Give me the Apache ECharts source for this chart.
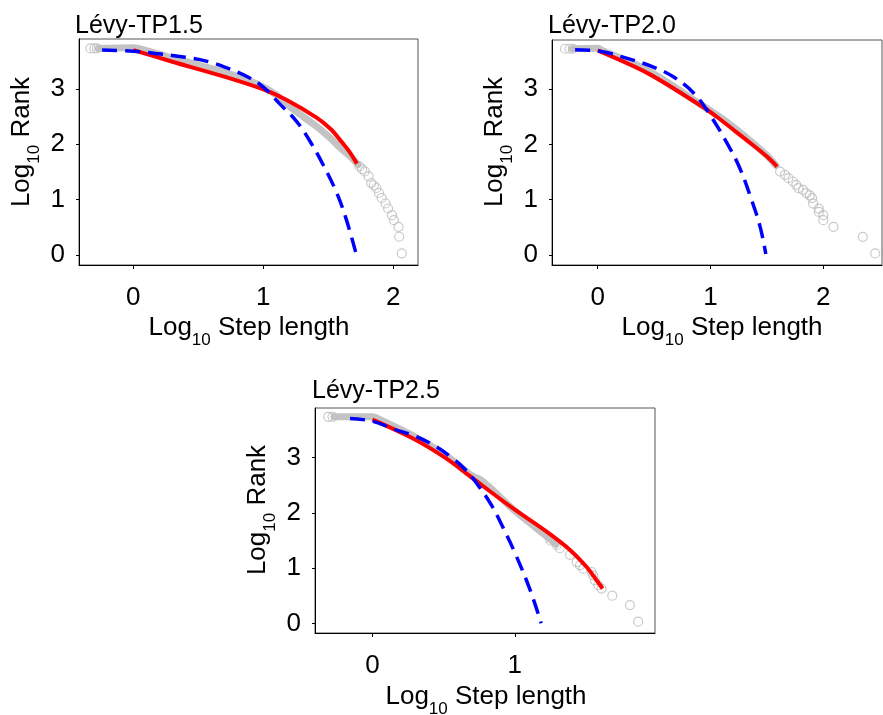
<!DOCTYPE html>
<html><head><meta charset="utf-8">
<script src="https://cdn.jsdelivr.net/npm/echarts@6/dist/echarts.min.js"></script>
<style>html,body{margin:0;padding:0;background:#fff}#c{width:883px;height:715px}</style>
</head><body><div id="c"></div>
<script>
// ---------- data ----------
const titles = ['Lévy-TP1.5', 'Lévy-TP2.0', 'Lévy-TP2.5'];
const xTickVals1 = [0, 1, 2];
const xTickVals2 = [0, 1, 2];
const xTickVals3 = [0, 1];
const yTickVals = [0, 1, 2, 3];
const xTitle = 'Log{s|10} Step length';
const yTitle = 'Log{s|10} Rank';

// Panel 1 (Lévy-TP1.5)
const p1Band = [[-0.27,3.73],[0.0,3.74],[0.1,3.69],[0.32,3.54],[0.7,3.30],[0.96,3.08],[1.1,2.89],[1.23,2.63],[1.41,2.32],[1.52,2.10],[1.6,1.92],[1.67,1.78],[1.73,1.63]];
const p1Dots = [[-0.33,3.73],[-0.30,3.73],[-0.28,3.73],[1.74,1.60],[1.76,1.55],[1.78,1.51],[1.81,1.42],[1.83,1.30],[1.85,1.26],[1.87,1.21],[1.89,1.12],[1.91,1.03],[1.94,0.93],[1.96,0.84],[1.99,0.72],[2.005,0.63],[2.04,0.51],[2.045,0.33],[2.065,0.03]];
const p1Fit = [[0.0,3.70],[0.3,3.49],[0.7,3.22],[1.0,2.99],[1.18,2.80],[1.41,2.48],[1.52,2.27],[1.6,2.05],[1.667,1.85],[1.72,1.65]];
const p1Exp = [[-0.24,3.70],[0.0,3.68],[0.17,3.64],[0.40,3.57],[0.58,3.49],[0.73,3.37],[0.885,3.21],[1.0,3.03],[1.13,2.72],[1.257,2.41],[1.36,2.05],[1.46,1.63],[1.565,1.12],[1.64,0.63],[1.713,0.03]];

// Panel 2 (Lévy-TP2.0)
const p2Band = [[-0.22,3.73],[0.0,3.74],[0.05,3.69],[0.45,3.33],[0.93,2.70],[1.1,2.47],[1.26,2.22],[1.4,1.98],[1.5,1.80],[1.58,1.62]];
const p2Dots = [[-0.29,3.73],[-0.25,3.73],[-0.22,3.73],[1.617,1.51],[1.66,1.45],[1.69,1.39],[1.73,1.33],[1.76,1.27],[1.78,1.21],[1.82,1.18],[1.85,1.12],[1.88,1.08],[1.90,1.03],[1.91,0.93],[1.96,0.84],[1.96,0.78],[2.0,0.72],[2.0,0.63],[2.09,0.51],[2.35,0.33],[2.46,0.03]];
const p2Fit = [[0.0,3.70],[0.45,3.28],[0.93,2.68],[1.055,2.50],[1.2,2.27],[1.35,2.03],[1.5,1.78],[1.59,1.60]];
const p2Exp = [[-0.20,3.71],[0.0,3.69],[0.27,3.55],[0.505,3.39],[0.68,3.21],[0.86,2.91],[1.0,2.52],[1.15,2.01],[1.26,1.57],[1.365,0.99],[1.44,0.51],[1.49,0.02]];

// Panel 3 (Lévy-TP2.5)
const p3Band = [[-0.27,3.74],[0.0,3.74],[0.06,3.68],[0.276,3.41],[0.51,3.05],[0.70,2.67],[0.76,2.60],[0.85,2.40],[0.99,2.06],[1.1,1.83],[1.22,1.58],[1.29,1.43]];
const p3Dots = [[-0.31,3.74],[-0.28,3.74],[1.25,1.50],[1.293,1.42],[1.316,1.36],[1.387,1.24],[1.434,1.11],[1.457,1.05],[1.48,0.99],[1.539,0.93],[1.55,0.87],[1.562,0.78],[1.585,0.69],[1.609,0.63],[1.684,0.50],[1.808,0.33],[1.866,0.03]];
const p3Fit = [[0.0,3.69],[0.276,3.36],[0.51,3.00],[0.698,2.64],[0.754,2.53],[0.988,2.08],[1.223,1.66],[1.387,1.33],[1.504,1.02],[1.574,0.78],[1.616,0.63]];
const p3Exp = [[-0.157,3.71],[0.0,3.66],[0.159,3.51],[0.30,3.39],[0.44,3.21],[0.557,3.00],[0.65,2.79],[0.745,2.49],[0.838,2.13],[0.92,1.72],[1.0,1.28],[1.105,0.62],[1.185,0.0]];

// ---------- layout ----------
const FONT = '"Liberation Sans", Arial, sans-serif';
const grids = [
  {left: 79, top: 39, width: 339, height: 226},
  {left: 552, top: 40, width: 330, height: 225},
  {left: 315, top: 408, width: 340, height: 225}
];
const xRanges = [[-0.418, 2.19], [-0.405, 2.52], [-0.403, 1.984]];
const yRanges = [[-0.18, 3.90], [-0.18, 3.888], [-0.175, 3.90]];
const xTickSets = [xTickVals1, xTickVals2, xTickVals3];
const panels = [
  {band: p1Band, dots: p1Dots, fit: p1Fit, exp: p1Exp},
  {band: p2Band, dots: p2Dots, fit: p2Fit, exp: p2Exp},
  {band: p3Band, dots: p3Dots, fit: p3Fit, exp: p3Exp}
];
const titlePos = [[75, 26], [548, 26], [312, 391]];
const xTitlePos = [[249, 328], [722, 328], [486, 697]];
const yTitlePos = [[22, 142], [495, 142], [258, 510]];

const chart = echarts.init(document.getElementById('c'), null, {renderer: 'canvas'});

const xAxis = [], yAxis = [], series = [], graphic = [];
grids.forEach((g, i) => {
  xAxis.push({
    type: 'value', gridIndex: i, min: xRanges[i][0], max: xRanges[i][1],
    axisLine: {show: true, onZero: false, lineStyle: {color: '#000', width: 1}},
    axisTick: {show: true, length: 4, customValues: xTickSets[i], lineStyle: {color: '#000'}},
    axisLabel: {customValues: xTickSets[i], margin: 20, fontSize: 26, fontFamily: FONT, color: '#000'},
    splitLine: {show: false}
  });
  yAxis.push({
    type: 'value', gridIndex: i, min: yRanges[i][0], max: yRanges[i][1],
    axisLine: {show: true, onZero: false, lineStyle: {color: '#000', width: 1}},
    axisTick: {show: true, length: 3, customValues: yTickVals, lineStyle: {color: '#000'}},
    axisLabel: {customValues: yTickVals, margin: 14, fontSize: 26, fontFamily: FONT, color: '#000'},
    splitLine: {show: false}
  });
  const p = panels[i];
  series.push({
    type: 'line', xAxisIndex: i, yAxisIndex: i, data: p.band, showSymbol: false, smooth: 0.3,
    lineStyle: {color: '#c3c3c3', width: 7, cap: 'round', join: 'round'}, silent: true, z: 1
  });
  series.push({
    type: 'scatter', xAxisIndex: i, yAxisIndex: i, data: p.dots, symbol: 'circle', symbolSize: 9,
    itemStyle: {color: 'rgba(255,255,255,0)', borderColor: '#bbbbbb', borderWidth: 1.2}, silent: true, z: 2
  });
  series.push({
    type: 'line', xAxisIndex: i, yAxisIndex: i, data: p.fit, showSymbol: false, smooth: 0.3,
    lineStyle: {color: '#ff0000', width: 4}, silent: true, z: 3
  });
  series.push({
    type: 'line', xAxisIndex: i, yAxisIndex: i, data: p.exp, showSymbol: false, smooth: 0.4,
    lineStyle: {color: '#0000ff', width: 3.5, type: [15, 8]}, silent: true, z: 4
  });
  graphic.push({
    type: 'text', x: titlePos[i][0], y: titlePos[i][1],
    style: {text: titles[i], font: '25px ' + FONT, fill: '#000', align: 'left', verticalAlign: 'middle', textAlign: 'left', textVerticalAlign: 'middle'}
  });
  graphic.push({
    type: 'text', x: xTitlePos[i][0], y: xTitlePos[i][1],
    style: {text: xTitle, font: '26px ' + FONT, fill: '#000', align: 'center', verticalAlign: 'middle', textAlign: 'center', textVerticalAlign: 'middle',
      rich: {s: {fontSize: 17, fontFamily: FONT, fill: '#000', padding: [24, 0, 0, 0]}}}
  });
  graphic.push({
    type: 'text', x: yTitlePos[i][0], y: yTitlePos[i][1], rotation: Math.PI / 2,
    style: {text: yTitle, font: '26px ' + FONT, fill: '#000', align: 'center', verticalAlign: 'middle', textAlign: 'center', textVerticalAlign: 'middle',
      rich: {s: {fontSize: 17, fontFamily: FONT, fill: '#000', padding: [24, 0, 0, 0]}}}
  });
});

chart.setOption({
  animation: false,
  backgroundColor: '#fff',
  grid: grids.map(g => Object.assign({show: true, borderColor: '#555', borderWidth: 1, backgroundColor: 'transparent'}, g)),
  xAxis, yAxis, series, graphic
});
</script></body></html>
